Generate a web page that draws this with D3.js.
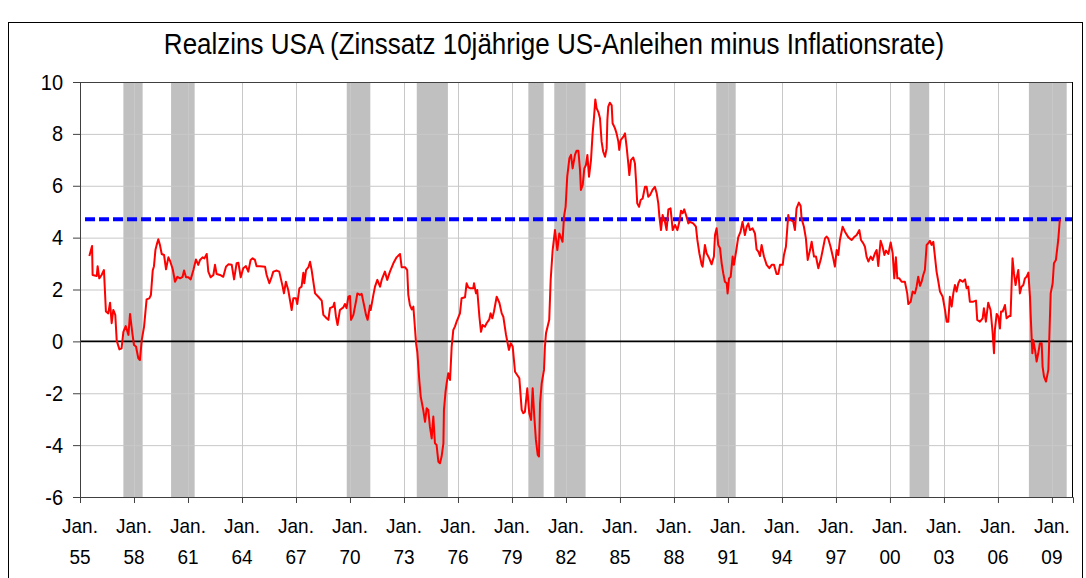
<!DOCTYPE html>
<html>
<head>
<meta charset="utf-8">
<script src="https://cdn.jsdelivr.net/npm/d3@7/dist/d3.min.js"></script>
<style>
  body { margin: 0; background: #fff; }
  text { font-family: "Liberation Sans", Arial, sans-serif; fill: #000; }
</style>
</head>
<body>
<svg id="chart" width="1086" height="578"></svg>
<script>
const title = 'Realzins USA (Zinssatz 10jährige US-Anleihen minus Inflationsrate)';
const yTicks = [-6, -4, -2, 0, 2, 4, 6, 8, 10];
const xTickYears = [1955, 1958, 1961, 1964, 1967, 1970, 1973, 1976, 1979, 1982, 1985, 1988, 1991, 1994, 1997, 2000, 2003, 2006, 2009];
const xTickLabels = ['55', '58', '61', '64', '67', '70', '73', '76', '79', '82', '85', '88', '91', '94', '97', '00', '03', '06', '09'];
// recession periods (grey bars), decimal years
const recessions = [
  [1957.41, 1958.48], [1960.06, 1961.37], [1969.82, 1971.13], [1973.71, 1975.44],
  [1979.91, 1980.76], [1981.35, 1983.09], [1990.35, 1991.43], [2001.09, 2002.18],
  [2007.72, 2009.82]
];
// current real rate, drawn as blue dashed line
const currentLevel = 4.71;
const currentFrom = 1955.28;

// decimal years
const dates = [
  1955.52, 1955.67, 1955.70, 1955.93, 1955.98, 1956.07, 1956.20, 1956.33, 1956.44, 1956.57, 1956.67, 1956.76, 1956.85, 1956.96,
  1957.04, 1957.19, 1957.31, 1957.41, 1957.54, 1957.69, 1957.78, 1957.91, 1958.00, 1958.11, 1958.24, 1958.33, 1958.43, 1958.56,
  1958.70, 1958.85, 1958.94, 1959.04, 1959.11, 1959.19, 1959.26, 1959.35, 1959.44, 1959.54, 1959.67, 1959.78, 1959.91,
  1960.00, 1960.15, 1960.28, 1960.41, 1960.56, 1960.70, 1960.78, 1960.89, 1961.02, 1961.15, 1961.30, 1961.44, 1961.57,
  1961.67, 1961.81, 1961.91, 1962.04, 1962.13, 1962.26, 1962.41, 1962.50, 1962.59, 1962.78, 1962.96, 1963.11, 1963.24,
  1963.43, 1963.56, 1963.70, 1963.80, 1963.93, 1964.07, 1964.22, 1964.35, 1964.48, 1964.59, 1964.72, 1964.81, 1965.00,
  1965.28, 1965.37, 1965.52, 1965.65, 1965.74, 1965.93, 1966.07, 1966.26, 1966.33, 1966.44, 1966.57, 1966.76, 1966.85,
  1967.00, 1967.07, 1967.19, 1967.31, 1967.41, 1967.46, 1967.56, 1967.69, 1967.78, 1967.87, 1968.06, 1968.24, 1968.43,
  1968.52, 1968.70, 1968.80, 1968.89, 1969.07, 1969.13, 1969.22, 1969.31, 1969.44, 1969.63, 1969.72, 1969.81, 1969.91,
  1970.00, 1970.06, 1970.19, 1970.33, 1970.41, 1970.55, 1970.65, 1970.78, 1970.89, 1970.98, 1971.11, 1971.15, 1971.30,
  1971.39, 1971.52, 1971.67, 1971.76, 1971.94, 1972.07, 1972.22, 1972.41, 1972.59, 1972.78, 1972.87, 1973.06, 1973.18,
  1973.24, 1973.33, 1973.43, 1973.52, 1973.57, 1973.67, 1973.74, 1973.85, 1973.93, 1974.07, 1974.17, 1974.26, 1974.35,
  1974.44, 1974.54, 1974.63, 1974.72, 1974.81, 1974.91, 1975.00, 1975.09, 1975.19, 1975.22, 1975.31, 1975.37, 1975.46,
  1975.56, 1975.65, 1975.74, 1975.83, 1975.93, 1976.11, 1976.20, 1976.39, 1976.48, 1976.57, 1976.67, 1976.85, 1976.89,
  1977.00, 1977.07, 1977.19, 1977.28, 1977.37, 1977.50, 1977.59, 1977.74, 1977.81, 1977.91, 1978.00, 1978.15, 1978.30,
  1978.43, 1978.52, 1978.67, 1978.76, 1978.83, 1978.93, 1979.04, 1979.17, 1979.41, 1979.54, 1979.63, 1979.72, 1979.85,
  1979.96, 1980.06, 1980.15, 1980.24, 1980.33, 1980.43, 1980.50, 1980.56, 1980.65, 1980.78, 1980.83, 1980.89, 1981.07,
  1981.15, 1981.26, 1981.39, 1981.52, 1981.63, 1981.70, 1981.81, 1981.89, 1981.98, 1982.07, 1982.19, 1982.28, 1982.37,
  1982.50, 1982.59, 1982.69, 1982.78, 1982.83, 1982.93, 1983.02, 1983.11, 1983.19, 1983.28, 1983.39, 1983.48, 1983.56,
  1983.63, 1983.70, 1983.80, 1983.89, 1983.98, 1984.07, 1984.17, 1984.26, 1984.30, 1984.35, 1984.44, 1984.54, 1984.59,
  1984.72, 1984.81, 1984.91, 1984.96, 1985.04, 1985.19, 1985.28, 1985.37, 1985.46, 1985.52, 1985.61, 1985.74, 1985.83,
  1985.89, 1985.96, 1986.06, 1986.15, 1986.26, 1986.39, 1986.48, 1986.57, 1986.67, 1986.81, 1986.94, 1987.04, 1987.13,
  1987.19, 1987.28, 1987.37, 1987.50, 1987.59, 1987.69, 1987.81, 1987.93, 1988.06, 1988.19, 1988.30, 1988.39, 1988.48,
  1988.57, 1988.67, 1988.80, 1988.89, 1989.07, 1989.22, 1989.30, 1989.41, 1989.54, 1989.59, 1989.72, 1989.81, 1989.96,
  1990.09, 1990.22, 1990.28, 1990.37, 1990.46, 1990.56, 1990.65, 1990.74, 1990.83, 1990.93, 1990.98, 1991.06, 1991.15,
  1991.26, 1991.33, 1991.48, 1991.57, 1991.70, 1991.81, 1991.94, 1992.04, 1992.13, 1992.22, 1992.37, 1992.50, 1992.59,
  1992.69, 1992.78, 1992.87, 1993.00, 1993.15, 1993.30, 1993.43, 1993.56, 1993.70, 1993.80, 1993.89, 1994.04, 1994.11,
  1994.22, 1994.35, 1994.41, 1994.50, 1994.63, 1994.72, 1994.81, 1994.94, 1995.04, 1995.09, 1995.22, 1995.33, 1995.43,
  1995.56, 1995.65, 1995.78, 1995.89, 1996.02, 1996.17, 1996.30, 1996.39, 1996.48, 1996.57, 1996.70, 1996.85, 1996.94,
  1997.04, 1997.13, 1997.22, 1997.37, 1997.50, 1997.69, 1997.87, 1998.00, 1998.15, 1998.30, 1998.39, 1998.52, 1998.61,
  1998.70, 1998.80, 1998.93, 1999.04, 1999.17, 1999.26, 1999.35, 1999.48, 1999.59, 1999.69, 1999.78, 1999.91, 2000.04,
  2000.15, 2000.24, 2000.33, 2000.41, 2000.52, 2000.65, 2000.83, 2000.96, 2001.02, 2001.15, 2001.26, 2001.39, 2001.48,
  2001.57, 2001.67, 2001.76, 2001.85, 2001.94, 2002.04, 2002.13, 2002.22, 2002.31, 2002.41, 2002.50, 2002.59, 2002.69,
  2002.78, 2002.93, 2003.06, 2003.15, 2003.24, 2003.33, 2003.43, 2003.52, 2003.61, 2003.70, 2003.80, 2003.89, 2004.04,
  2004.17, 2004.26, 2004.35, 2004.44, 2004.63, 2004.78, 2004.85, 2005.00, 2005.15, 2005.22, 2005.33, 2005.46, 2005.59,
  2005.70, 2005.78, 2005.83, 2005.93, 2006.02, 2006.11, 2006.17, 2006.26, 2006.39, 2006.48, 2006.63, 2006.70, 2006.81,
  2006.89, 2006.98, 2007.04, 2007.13, 2007.22, 2007.31, 2007.41, 2007.50, 2007.59, 2007.69, 2007.78, 2007.83, 2007.91,
  2007.96, 2008.06, 2008.15, 2008.24, 2008.33, 2008.43, 2008.48, 2008.56, 2008.67, 2008.80, 2008.85, 2008.93, 2009.04,
  2009.11, 2009.22, 2009.35, 2009.44
];

// real rate in percent, same order as dates
const realRate = [
  3.29, 3.68, 2.56, 2.52, 2.90, 2.43, 2.56, 2.75, 1.15, 1.08, 1.49, 0.70, 1.21, 1.02,
  0.03, -0.31, -0.27, 0.37, 0.59, 0.25, 1.06, 0.31, -0.14, -0.20, -0.65, -0.72, 0.05, 0.57,
  1.62, 1.66, 1.79, 2.73, 2.90, 3.52, 3.72, 3.94, 3.72, 3.37, 3.33, 2.78, 3.24,
  3.11, 2.79, 2.30, 2.49, 2.43, 2.49, 2.73, 2.47, 2.47, 2.39, 2.75, 3.16, 2.95,
  3.14, 3.24, 3.20, 3.37, 2.69, 2.47, 2.56, 2.95, 2.60, 2.56, 2.49, 2.88, 2.97,
  2.95, 2.39, 3.01, 3.03, 2.47, 2.82, 2.90, 2.69, 3.14, 3.20, 3.14, 2.90, 2.90,
  2.88, 2.56, 2.24, 2.49, 2.69, 2.73, 2.69, 2.11, 1.85, 2.30, 1.98, 1.21, 1.66,
  1.66, 1.44, 2.05, 2.11, 2.65, 2.24, 2.75, 2.86, 3.07, 2.75, 1.85, 1.72, 1.57,
  1.02, 0.89, 0.83, 1.28, 1.34, 1.49, 0.96, 0.63, 1.21, 1.31, 1.44, 1.28, 1.72,
  1.75, 0.83, 1.02, 1.53, 1.85, 1.79, 1.83, 1.40, 1.02, 0.83, 1.38, 1.21, 1.79,
  2.11, 2.37, 2.11, 2.37, 2.69, 2.37, 2.69, 3.01, 3.24, 3.37, 2.86, 2.86, 2.75,
  1.79, 1.40, 1.23, 1.34, 0.89, -0.07, -0.40, -1.49, -2.13, -2.64, -3.10, -2.58, -2.64,
  -3.29, -3.74, -2.90, -3.93, -3.99, -4.64, -4.70, -4.44, -3.93, -2.64, -1.94, -1.62, -1.23,
  -1.49, -0.20, 0.44, 0.57, 0.77, 1.08, 1.66, 1.70, 2.24, 2.08, 2.05, 2.05, 2.24,
  1.85, 1.98, 0.95, 0.37, 0.63, 0.57, 0.70, 0.85, 1.08, 0.89, 1.15, 1.72, 1.49,
  1.08, 0.95, 0.25, -0.07, -0.33, -0.07, -0.20, -1.17, -1.42, -2.64, -2.77, -2.71, -1.81,
  -2.77, -3.03, -1.81, -2.90, -3.80, -4.38, -4.44, -2.39, -1.62, -1.10, -0.20, 0.31, 0.83,
  2.37, 3.52, 4.29, 3.52, 4.16, 4.04, 3.84, 4.81, 5.19, 6.35, 7.06, 7.19, 6.67,
  7.19, 7.35, 7.35, 6.61, 5.84, 6.03, 6.67, 6.80, 7.19, 6.35, 6.99, 8.02, 8.66,
  9.33, 8.99, 8.84, 8.60, 7.70, 7.31, 7.12, 7.44, 8.54, 9.05, 9.20, 9.10, 8.41,
  8.22, 8.02, 7.70, 7.38, 7.76, 7.89, 8.02, 7.50, 6.87, 6.41, 6.99, 7.09, 6.87,
  6.22, 5.32, 5.19, 5.45, 5.51, 5.96, 5.96, 5.58, 5.64, 5.84, 5.96, 5.71, 5.32,
  4.81, 4.29, 4.87, 4.61, 4.29, 5.09, 5.13, 4.29, 4.49, 4.29, 4.61, 5.04, 4.94,
  5.09, 4.87, 4.55, 4.61, 4.55, 4.42, 3.91, 3.40, 2.95, 2.88, 3.72, 3.40, 3.20,
  2.97, 3.27, 4.10, 4.36, 3.72, 3.59, 3.01, 2.62, 2.30, 2.24, 1.85, 2.43, 2.49,
  3.27, 2.95, 3.59, 4.01, 4.23, 4.61, 4.10, 4.42, 4.55, 4.29, 4.36, 4.16, 3.55,
  3.46, 3.29, 3.72, 3.27, 2.95, 2.82, 2.95, 2.95, 2.60, 2.60, 2.95, 2.95, 3.33,
  3.65, 4.87, 4.68, 4.68, 4.61, 4.29, 5.13, 5.35, 5.22, 4.74, 4.42, 3.97, 3.14,
  3.52, 3.84, 3.27, 3.27, 2.82, 3.20, 3.65, 3.97, 4.04, 3.97, 3.65, 3.20, 2.88,
  3.52, 3.33, 3.91, 4.42, 4.23, 4.01, 3.91, 4.01, 4.10, 4.29, 3.91, 3.78, 3.65,
  3.27, 3.08, 3.27, 3.14, 3.40, 3.52, 2.91, 3.88, 3.65, 3.33, 3.50, 3.37, 3.81,
  3.40, 2.43, 3.24, 2.43, 2.43, 2.30, 2.30, 1.85, 1.44, 1.53, 1.92, 1.85, 2.11,
  2.49, 2.14, 2.30, 2.56, 2.75, 3.72, 3.78, 3.88, 3.72, 3.84, 3.27, 2.69, 2.30,
  1.92, 1.72, 1.21, 0.76, 0.76, 1.72, 1.34, 1.85, 2.17, 1.92, 2.24, 2.37, 2.30,
  2.39, 2.05, 2.11, 1.53, 1.53, 1.57, 0.83, 0.76, 0.89, 1.28, 0.76, 1.49, 1.21,
  0.37, -0.46, 0.44, 1.06, 0.96, 0.50, 1.15, 1.15, 1.40, 0.89, 0.98, 0.98, 3.20,
  2.62, 2.17, 2.43, 2.75, 1.85, 2.11, 2.17, 2.43, 2.49, 2.65, 1.72, 0.83, -0.46,
  0.05, -0.33, -0.78, -0.46, -0.07, -0.07, -0.97, -1.36, -1.55, -1.10, 0.05, 1.85, 2.24,
  3.01, 3.14, 3.91, 4.71
];

const svg = d3.select('#chart');
const margin = { top: 82, right: 13, bottom: 81, left: 80 };
const width = 1086 - margin.left - margin.right;
const height = 578 - margin.top - margin.bottom;
const stretch = 1.1; // labels in the original look slightly tall and narrow

// outer chart frame
svg.append('rect')
  .attr('x', 8.5).attr('y', 22.5)
  .attr('width', 1074).attr('height', 600)
  .attr('fill', 'none')
  .attr('stroke', '#000')
  .attr('stroke-width', 1);

svg.append('text')
  .attr('transform', `translate(554, 54) scale(1, ${stretch})`)
  .attr('text-anchor', 'middle')
  .attr('font-size', 26)
  .text(title);

const x = d3.scaleLinear().domain([1955, 2010.17]).range([0, width]);
const y = d3.scaleLinear().domain([-6, 10]).range([height, 0]);

const g = svg.append('g')
  .attr('transform', `translate(${margin.left}, ${margin.top})`);

// recession bars
g.selectAll('.recession')
  .data(recessions)
  .join('rect')
    .attr('class', 'recession')
    .attr('x', d => x(d[0]))
    .attr('width', d => x(d[1]) - x(d[0]))
    .attr('y', 0)
    .attr('height', height)
    .attr('fill', '#c0c0c0');

// grid
g.append('g')
  .selectAll('line')
  .data(yTicks.filter(v => v !== -6 && v !== 10 && v !== 0))
  .join('line')
    .attr('x1', 0).attr('x2', width)
    .attr('y1', d => y(d) + 0.5).attr('y2', d => y(d) + 0.5)
    .attr('stroke', '#c8c8c8');
g.append('g')
  .selectAll('line')
  .data(xTickYears.slice(1))
  .join('line')
    .attr('x1', d => Math.round(x(d)) + 0.5).attr('x2', d => Math.round(x(d)) + 0.5)
    .attr('y1', 0).attr('y2', height)
    .attr('stroke', '#c8c8c8');

// zero line
g.append('line')
  .attr('x1', 0).attr('x2', width)
  .attr('y1', y(0)).attr('y2', y(0))
  .attr('stroke', '#000')
  .attr('stroke-width', 1.6);

// current level
g.append('line')
  .attr('x1', x(currentFrom)).attr('x2', width)
  .attr('y1', y(currentLevel)).attr('y2', y(currentLevel))
  .attr('stroke', '#0000ff')
  .attr('stroke-width', 4)
  .attr('stroke-dasharray', '10,4');

const line = d3.line()
  .x((d, i) => x(dates[i]))
  .y(d => y(d));

g.append('path')
  .datum(realRate)
  .attr('fill', 'none')
  .attr('stroke', '#ff0000')
  .attr('stroke-width', 2)
  .attr('stroke-linejoin', 'round')
  .attr('d', line);

// plot frame: top and right
g.append('line')
  .attr('x1', 0).attr('x2', width)
  .attr('y1', 0.5).attr('y2', 0.5)
  .attr('stroke', '#404040');
g.append('line')
  .attr('x1', width - 0.5).attr('x2', width - 0.5)
  .attr('y1', 0).attr('y2', height)
  .attr('stroke', '#000');

// y axis
const yAxis = g.append('g')
  .call(d3.axisLeft(y).tickValues(yTicks).tickSize(7).tickPadding(10).tickFormat(d => String(d)));
yAxis.select('.domain').attr('stroke', '#404040');
yAxis.selectAll('.tick line').attr('stroke', '#404040');
yAxis.selectAll('.tick text')
  .attr('font-size', 20)
  .attr('font-family', '"Liberation Sans", Arial, sans-serif')
  .attr('transform', `scale(1, ${stretch})`);

// x axis
const xAxis = g.append('g')
  .attr('transform', `translate(0, ${height})`)
  .call(d3.axisBottom(x).tickValues(xTickYears).tickSize(6).tickFormat(''));
xAxis.select('.domain').attr('stroke', '#404040');
xAxis.selectAll('.tick line').attr('stroke', '#404040');

const xLabels = g.append('g')
  .selectAll('text')
  .data(xTickYears)
  .join('text')
    .attr('text-anchor', 'middle')
    .attr('font-size', 19)
    .attr('transform', d => `translate(${x(d)}, ${height}) scale(1, ${stretch})`);
xLabels.append('tspan').attr('x', 0).attr('y', 33).text('Jan.');
xLabels.append('tspan').attr('x', 0).attr('y', 61).text((d, i) => xTickLabels[i]);
</script>
</body>
</html>
